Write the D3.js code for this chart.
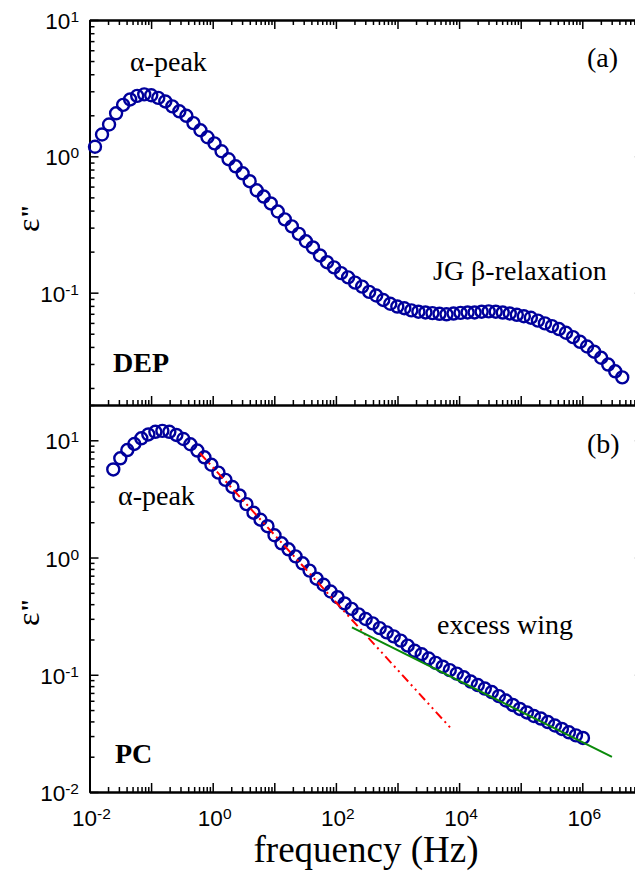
<!DOCTYPE html>
<html><head><meta charset="utf-8">
<script src="https://cdn.jsdelivr.net/npm/d3@7"></script>
<style>html,body{margin:0;padding:0;background:#fff;} svg{display:block;}</style>
</head><body>
<svg id="chart" width="635" height="878"></svg>
<script>
// ---------- data ----------
// panel (a): DEP
const freqA = [0.01228,0.01597,0.02077,0.02702,0.03513,0.04569,0.05943,0.07730,0.1005,0.1307,0.1700,0.2211,0.2876,0.3740,0.4864,0.6326,0.8228,1.070,1.392,1.810,2.354,3.062,3.981,5.178,6.734,8.759,11.39,14.81,19.27,25.05,32.58,42.38,55.12,71.69,93.22,121.3,157.7,205.0,266.7,346.8,451.1,586.6,762.9,992.2,1290,1678,2183,2839,3693,4802,6245,8121,10560,13740,17860,23230,30220,39300,51110,66460,86450,112400,146200,190100,247300,321600,418300,543900,707400,920000,1196000,1556000,2024000,2632000,3423000,4452000];
const epsA = [1.176,1.446,1.712,2.068,2.386,2.614,2.777,2.848,2.805,2.682,2.527,2.327,2.139,1.983,1.753,1.553,1.380,1.245,1.090,0.9524,0.8449,0.7508,0.6570,0.5637,0.5070,0.4513,0.3937,0.3446,0.3062,0.2699,0.2382,0.2146,0.1875,0.1673,0.1532,0.1391,0.1294,0.1184,0.1108,0.1014,0.0953,0.0884,0.0829,0.0791,0.0769,0.0742,0.0725,0.0716,0.0708,0.0700,0.0694,0.0703,0.0711,0.0716,0.0716,0.0725,0.0729,0.0725,0.0715,0.0704,0.0688,0.0672,0.0655,0.0624,0.0595,0.0568,0.0541,0.0508,0.0472,0.0436,0.0403,0.0369,0.0333,0.0297,0.0265,0.0239];
// panel (b): PC
const freqB = [0.02432,0.03161,0.04108,0.05339,0.06939,0.09016,0.1172,0.1523,0.1979,0.2572,0.3342,0.4343,0.5645,0.7336,0.9532,1.239,1.610,2.092,2.719,3.533,4.592,5.967,7.755,10.08,13.10,17.02,22.12,28.74,37.35,48.55,63.10,82.00,106.6,138.5,180.0,233.9,304.0,395.0,513.4,667.2,867.0,1127,1464,1903,2473,3214,4177,5428,7054,9167,11910,15480,20120,26150,33980,44160,57390,74580,96920,126000,163700,212700,276400,359200,466800,606700,788400,1025000];
const epsB = [5.640,7.021,8.257,9.302,10.40,11.22,11.81,12.04,11.81,11.11,10.26,9.247,8.176,7.160,6.182,5.297,4.592,3.998,3.385,2.855,2.413,2.101,1.850,1.548,1.322,1.175,1.023,0.8924,0.7737,0.6601,0.5858,0.5130,0.4589,0.4059,0.3650,0.3272,0.2990,0.2745,0.2498,0.2297,0.2124,0.1957,0.1771,0.1603,0.1497,0.1376,0.1264,0.1172,0.1095,0.1023,0.0951,0.0875,0.0817,0.0763,0.0712,0.0657,0.0603,0.0553,0.0511,0.0477,0.0445,0.0423,0.0395,0.0369,0.0345,0.0323,0.0304,0.0289];
// power-law guide lines in panel (b): [start, end]
const alphaFitFreq = [0.622, 7112];
const alphaFitEps  = [7.76, 0.0356];
const wingFitFreq  = [182, 3.03e6];
const wingFitEps   = [0.2535, 0.01995];
// axis tick labels (powers of ten)
const xTickExps = [-2, 0, 2, 4, 6];
const yTickExpsA = [1, 0, -1];
const yTickExpsB = [1, 0, -1, -2];

// ---------- layout ----------
const svg = d3.select("#chart");
const X0 = 89.5, X1 = 643.9;
const TOP = 20, MID = 405, BOT = 792;
const x = d3.scaleLog().domain([0.01, 1e7]).range([X0, X1]);
const yA = d3.scaleLog().domain([0.015, 10]).range([MID, TOP]);
const yB = d3.scaleLog().domain([0.01, 20]).range([BOT, MID]);
const BLUE = "#00009c";

function logTicks(scale){
  const [a,b] = scale.domain();
  const minor = [], major = [];
  for (let e = Math.floor(Math.log10(a)); e <= Math.ceil(Math.log10(b)); e++){
    for (let m = 1; m <= 9; m++){
      const v = m * Math.pow(10, e);
      if (v < a*0.999 || v > b*1.001) continue;
      (m === 1 ? major : minor).push(v);
    }
  }
  return {minor, major};
}

function drawAxis(gen, scale, transform){
  const t = logTicks(scale);
  const g = svg.append("g").attr("transform", transform);
  g.append("g").call(gen(scale).tickValues(t.minor).tickSize(-5).tickSizeOuter(0).tickFormat(""));
  g.append("g").call(gen(scale).tickValues(t.major).tickSize(-9).tickSizeOuter(0).tickFormat(""));
  g.selectAll(".domain").attr("stroke", "#000").attr("stroke-width", 2);
  g.selectAll(".tick line").attr("stroke", "#000").attr("stroke-width", 1.5);
}

// panel (a)
drawAxis(d3.axisTop, x, `translate(0,${TOP})`);
drawAxis(d3.axisBottom, x, `translate(0,${MID})`);
drawAxis(d3.axisLeft, yA, `translate(${X0},0)`);
drawAxis(d3.axisRight, yA, `translate(${X1},0)`);
// panel (b)
drawAxis(d3.axisBottom, x, `translate(0,${BOT})`);
drawAxis(d3.axisLeft, yB, `translate(${X0},0)`);
drawAxis(d3.axisRight, yB, `translate(${X1},0)`);

// tick labels
const sans = "'Liberation Sans', Arial, sans-serif";
const serif = "'Liberation Serif', 'Times New Roman', serif";
function powLabel(t, exp){
  t.append("tspan").text("10");
  t.append("tspan").attr("dy", -7).attr("font-size", 15.5).text(String(exp));
}
xTickExps.forEach(e => {
  const t = svg.append("text").attr("x", x(Math.pow(10, e)) + 2).attr("y", 826)
    .attr("text-anchor", "middle").attr("font-family", sans).attr("font-size", 22.5).attr("fill", "#000");
  powLabel(t, e);
});
yTickExpsA.forEach(e => {
  const t = svg.append("text").attr("x", 79).attr("y", yA(Math.pow(10, e)) + 9)
    .attr("text-anchor", "end").attr("font-family", sans).attr("font-size", 22.5).attr("fill", "#000");
  powLabel(t, e);
});
yTickExpsB.forEach(e => {
  const t = svg.append("text").attr("x", 79).attr("y", yB(Math.pow(10, e)) + 9)
    .attr("text-anchor", "end").attr("font-family", sans).attr("font-size", 22.5).attr("fill", "#000");
  powLabel(t, e);
});

// axis titles
svg.append("text").attr("x", 366).attr("y", 862).attr("text-anchor", "middle")
  .attr("font-family", serif).attr("font-size", 37).attr("fill", "#000").text("frequency (Hz)");
function yTitle(cy){
  const t = svg.append("text").attr("transform", `translate(39,${cy}) rotate(-90)`)
    .attr("text-anchor", "middle").attr("font-family", serif).attr("font-size", 32).attr("fill", "#000");
  t.append("tspan").text("ε");
  t.append("tspan").attr("font-weight", "bold").attr("font-size", 26).text("\"");
}
yTitle(218);
yTitle(612);

// data circles
function drawSeries(fs, es, yS){
  svg.append("g").selectAll("circle").data(fs.map((f,i)=>[f, es[i]])).join("circle")
    .attr("cx", d => x(d[0])).attr("cy", d => yS(d[1])).attr("r", 6)
    .attr("fill", "none").attr("stroke", BLUE).attr("stroke-width", 2.4);
}
drawSeries(freqA, epsA, yA);
drawSeries(freqB, epsB, yB);

// guide lines in (b)
const line = d3.line().x(d => x(d[0])).y(d => yB(d[1]));
svg.append("path").datum(alphaFitFreq.map((f,i)=>[f, alphaFitEps[i]])).attr("d", line)
  .attr("fill", "none").attr("stroke", "#ff0000").attr("stroke-width", 2)
  .attr("stroke-dasharray", "9,4,2,4,2,4");
svg.append("path").datum(wingFitFreq.map((f,i)=>[f, wingFitEps[i]])).attr("d", line)
  .attr("fill", "none").attr("stroke", "#0a8a0a").attr("stroke-width", 2);

// annotations
function note(txt, px, py, bold){
  svg.append("text").attr("x", px).attr("y", py).attr("font-family", serif)
    .attr("font-size", 28).attr("font-weight", bold ? "bold" : "normal").attr("fill", "#000").text(txt);
}
note("α-peak", 130, 71);
note("(a)", 587, 67);
note("JG β-relaxation", 433, 280);
note("DEP", 113, 372, true);
note("(b)", 587, 453);
note("α-peak", 118, 505);
note("excess wing", 437, 634);
note("PC", 115, 763, true);
</script>
</body></html>
